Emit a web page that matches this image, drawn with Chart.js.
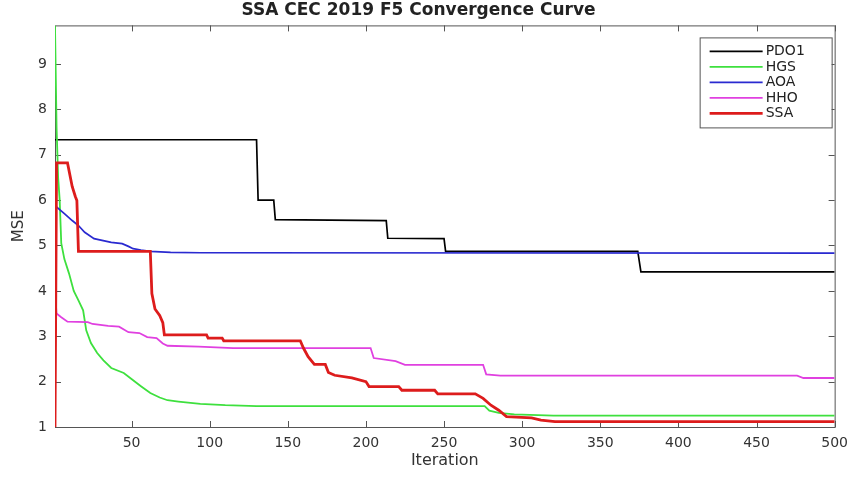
<!DOCTYPE html>
<html>
<head>
<meta charset="utf-8">
<script src="https://cdn.jsdelivr.net/npm/chart.js@4.4.1/dist/chart.umd.min.js"></script>
<style>
  body { margin: 0; background: #fff; }
  #wrap { width: 856px; height: 477px; }
</style>
</head>
<body>
<div id="wrap"><canvas id="curve"></canvas></div>
<script>
// tick labels
var iterTicks = [50, 100, 150, 200, 250, 300, 350, 400, 450, 500];
var mseTicks = [1, 2, 3, 4, 5, 6, 7, 8, 9];

// series names
var names = ["PDO1", "HGS", "AOA", "HHO", "SSA"];

// PDO1 (black) - breakpoints
var pdoIter = [1, 130, 131, 141, 142, 213, 214, 250, 251, 374, 376, 500];
var pdoMse  = [7.33, 7.33, 6.0, 6.0, 5.57, 5.55, 5.16, 5.15, 4.87, 4.87, 4.42, 4.42];

// HGS (green)
var hgsIter = [1, 2, 3, 4, 5, 7, 10, 13, 16, 19, 21, 24, 28, 32, 37, 45, 51, 56, 62, 68, 73, 80, 94, 110, 130, 276, 279, 285, 295, 310, 320, 500];
var hgsMse  = [9.85, 7.6, 6.5, 6.0, 5.05, 4.7, 4.38, 4.0, 3.79, 3.57, 3.13, 2.85, 2.63, 2.47, 2.30, 2.19, 2.03, 1.9, 1.75, 1.65, 1.59, 1.56, 1.51, 1.48, 1.46, 1.46, 1.36, 1.31, 1.28, 1.26, 1.25, 1.25];

// AOA (blue)
var aoaIter = [1, 7, 12, 16, 20, 26, 37, 44, 48, 51, 56, 62, 75, 94, 500];
var aoaMse  = [5.88, 5.70, 5.55, 5.44, 5.29, 5.15, 5.07, 5.04, 4.98, 4.93, 4.90, 4.87, 4.85, 4.84, 4.83];

// HHO (magenta)
var hhoIter = [1, 2, 5, 9, 22, 25, 35, 42, 48, 55, 60, 66, 70, 73, 93, 115, 203, 205, 219, 225, 275, 277, 286, 476, 480, 500];
var hhoMse  = [3.95, 3.5, 3.42, 3.32, 3.31, 3.27, 3.23, 3.21, 3.09, 3.07, 2.98, 2.96, 2.84, 2.79, 2.77, 2.74, 2.74, 2.52, 2.45, 2.37, 2.37, 2.16, 2.13, 2.13, 2.08, 2.08];

// SSA (red)
var ssaIter = [1, 2, 9, 12, 14, 15, 16, 62, 63, 65, 68, 70, 71, 98, 99, 108, 109, 158, 160, 163, 167, 174, 176, 180, 191, 200, 202, 221, 223, 244, 246, 270, 275, 280, 285, 290, 306, 312, 321, 500];
var ssaMse  = [1.0, 6.82, 6.82, 6.3, 6.08, 5.99, 4.87, 4.87, 3.94, 3.6, 3.46, 3.3, 3.03, 3.03, 2.96, 2.96, 2.9, 2.9, 2.74, 2.55, 2.38, 2.38, 2.2, 2.14, 2.08, 2.0, 1.89, 1.89, 1.81, 1.81, 1.73, 1.73, 1.63, 1.48, 1.37, 1.23, 1.2, 1.15, 1.12, 1.12];

function pts(xs, ys) {
    return xs.map(function (x, i) { return { x: x, y: ys[i] }; });
}

var colors = ["#000000", "#3ee03e", "#2a2ad0", "#e040e0", "#dd1c1c"];
var widths = [1.7, 1.8, 1.7, 1.8, 2.8];
var series = [pts(pdoIter, pdoMse), pts(hgsIter, hgsMse), pts(aoaIter, aoaMse), pts(hhoIter, hhoMse), pts(ssaIter, ssaMse)];

var font = "'DejaVu Sans', sans-serif";

//matlab-like box with inward ticks
var axesBox = {
    id: "axesBox",
    beforeDatasetsDraw: function (chart) {
        var ctx = chart.ctx, a = chart.chartArea, sx = chart.scales.x, sy = chart.scales.y;
        var len = 6;
        ctx.save();
        ctx.strokeStyle = "#555";
        ctx.lineWidth = 1;
        ctx.strokeRect(a.left + 0.5, a.top + 0.5, a.right - a.left, a.bottom - a.top);
        ctx.beginPath();
        iterTicks.forEach(function (v) {
            var px = Math.round(sx.getPixelForValue(v)) + 0.5;
            ctx.moveTo(px, a.bottom); ctx.lineTo(px, a.bottom - len);
            ctx.moveTo(px, a.top); ctx.lineTo(px, a.top + len);
        });
        mseTicks.forEach(function (v) {
            var py = Math.round(sy.getPixelForValue(v)) + 0.5;
            ctx.moveTo(a.left, py); ctx.lineTo(a.left + len, py);
            ctx.moveTo(a.right, py); ctx.lineTo(a.right - len, py);
        });
        ctx.stroke();
        ctx.restore();
    }
};

//legend box inside the top right corner
var legendBox = {
    id: "legendBox",
    afterDraw: function (chart) {
        var ctx = chart.ctx, a = chart.chartArea;
        var w = 132, h = 90;
        var x0 = a.right - w - 3, y0 = a.top + 12;
        ctx.save();
        ctx.fillStyle = "#fff";
        ctx.fillRect(x0, y0, w, h);
        ctx.strokeStyle = "#555";
        ctx.lineWidth = 1;
        ctx.strokeRect(x0 + 0.5, y0 + 0.5, w, h);
        ctx.font = "14px " + font;
        ctx.textBaseline = "middle";
        chart.data.datasets.forEach(function (ds, i) {
            var yy = y0 + 14 + i * 15.5;
            ctx.strokeStyle = ds.borderColor;
            ctx.lineWidth = ds.borderWidth;
            ctx.beginPath();
            ctx.moveTo(x0 + 10, yy);
            ctx.lineTo(x0 + 63, yy);
            ctx.stroke();
            ctx.fillStyle = "#222";
            ctx.fillText(ds.label, x0 + 66, yy);
        });
        ctx.restore();
    }
};

var chart = new Chart(document.getElementById("curve"), {
    type: "line",
    data: {
        datasets: names.map(function (n, i) {
            return {
                label: n,
                data: series[i],
                borderColor: colors[i],
                backgroundColor: colors[i],
                borderWidth: widths[i],
                pointRadius: 0,
                tension: 0,
                fill: false,
                order: names.length - i
            };
        })
    },
    options: {
        responsive: true,
        maintainAspectRatio: false,
        animation: false,
        layout: { padding: { left: 0, right: 19, top: 0, bottom: 0 } },
        plugins: {
            legend: { display: false },
            tooltip: { enabled: false },
            title: {
                display: true,
                text: "SSA CEC 2019 F5 Convergence Curve",
                color: "#222",
                font: { family: font, size: 17, weight: "bold" },
                padding: { top: 0, bottom: 5 }
            }
        },
        scales: {
            x: {
                type: "linear",
                min: 1,
                max: 500,
                grid: { display: false, drawTicks: false },
                border: { display: false },
                afterBuildTicks: function (s) { s.ticks = iterTicks.map(function (v) { return { value: v }; }); },
                afterFit: function (s) { s.height = 50; },
                ticks: { color: "#333", font: { family: font, size: 14 }, padding: 8, maxRotation: 0, autoSkip: false },
                title: { display: true, text: "Iteration", color: "#333", font: { family: font, size: 16 }, padding: { top: 0, bottom: 7 } }
            },
            y: {
                type: "linear",
                min: 1,
                max: 9.85,
                grid: { display: false, drawTicks: false },
                border: { display: false },
                afterBuildTicks: function (s) { s.ticks = mseTicks.map(function (v) { return { value: v }; }); },
                afterFit: function (s) { s.width = 55; },
                ticks: { color: "#333", font: { family: font, size: 14 }, padding: 8 },
                title: { display: true, text: "MSE", color: "#333", font: { family: font, size: 15 }, padding: { top: 10, bottom: 0 } }
            }
        }
    },
    plugins: [axesBox, legendBox]
});
</script>
</body>
</html>
